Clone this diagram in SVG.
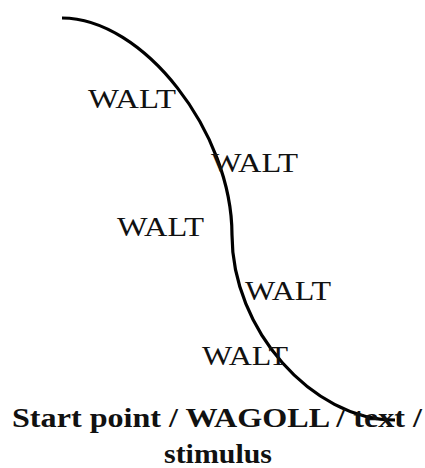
<svg xmlns="http://www.w3.org/2000/svg" width="425" height="468" viewBox="0 0 425 468">
<style>
.w{font-family:"Liberation Serif","Times New Roman",serif;font-size:28px;fill:#111}
.b{font-family:"Liberation Serif","Times New Roman",serif;font-size:28px;font-weight:bold;fill:#111}
.c{fill:none;stroke:#000;stroke-width:3.2;stroke-linecap:butt}
</style>
<rect width="425" height="468" fill="#fff"/>
<g id="connectors">
<path class="c" d="M62,18 C143,18 232,132 232,235 C232,329 312,420 395,420"/>
</g>
<g id="walt1"><text class="w" x="88" y="108" textLength="88" lengthAdjust="spacingAndGlyphs">WALT</text></g>
<g id="walt2"><text class="w" x="211" y="172" textLength="87" lengthAdjust="spacingAndGlyphs">WALT</text></g>
<g id="walt3"><text class="w" x="117" y="236" textLength="87" lengthAdjust="spacingAndGlyphs">WALT</text></g>
<g id="walt4"><text class="w" x="245" y="300" textLength="86" lengthAdjust="spacingAndGlyphs">WALT</text></g>
<g id="walt5"><text class="w" x="202" y="365" textLength="86" lengthAdjust="spacingAndGlyphs">WALT</text></g>
<g id="caption">
<text class="b" x="12" y="427" textLength="410" lengthAdjust="spacingAndGlyphs">Start point / WAGOLL / text /</text>
<text class="b" x="164" y="463" textLength="108" lengthAdjust="spacingAndGlyphs">stimulus</text>
</g>
</svg>
